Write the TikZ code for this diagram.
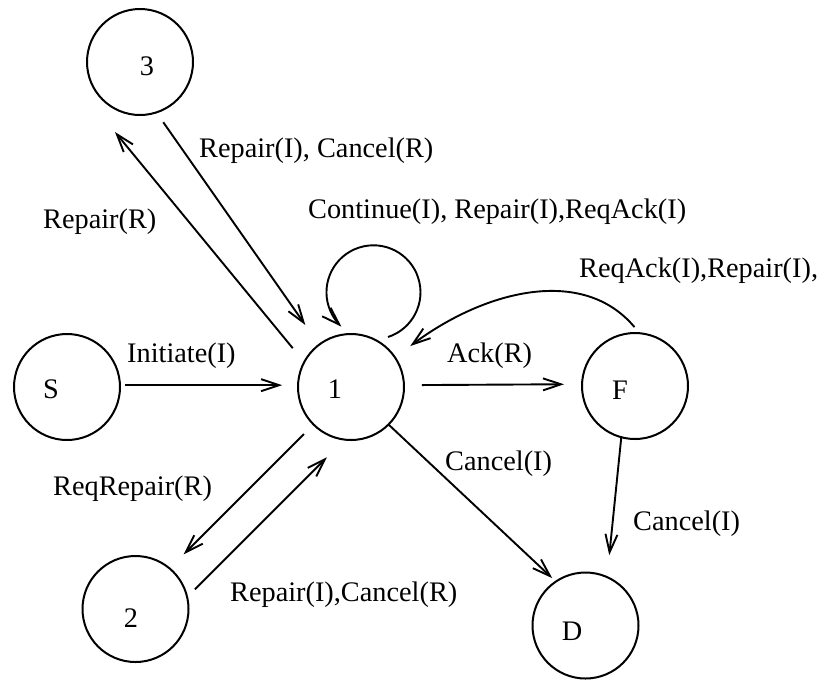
\documentclass[tikz,border=0pt]{standalone}
\usepackage{fontspec}
\setmainfont{Liberation Serif}
\usetikzlibrary{arrows.meta,calc,bending}
\begin{document}
\begin{tikzpicture}[x=1pt,y=-1pt,
  state/.style={circle,draw,line width=2pt,minimum size=106pt,inner sep=0pt,outer sep=0pt},
  lbl/.style={font=\fontsize{28.3}{34}\selectfont,inner sep=0pt,anchor=base west},
  slbl/.style={font=\fontsize{28.3}{34}\selectfont,inner sep=0pt,anchor=base},
  arr/.style={line width=1.9pt,-{Straight Barb[length=18pt,width=12pt]}},
]
\path[use as bounding box] (0,0) rectangle (821,681);

% states
\node[state] (n3) at (140,62) {};
\node[state] (nS) at (67,387) {};
\node[state] (n1) at (351,387) {};
\node[state] (nF) at (635,386) {};
\node[state] (n2) at (135.5,609) {};
\node[state] (nD) at (585.5,625.5) {};

% state names
\node[slbl] (t3) at (147,75) {3};
\node[slbl] (tS) at (51,398) {S};
\node[slbl] (t1) at (335,398) {1};
\node[slbl] (t2) at (131,627) {2};
\node[slbl] (tF) at (620,399) {F};
\node[slbl] (tD) at (572,640) {D};

% transitions
\draw[arr,shorten <=5pt,shorten >=16pt] (nS.2) -- (n1.178);
\draw[arr,shorten <=18pt,shorten >=18pt] (n1.2) -- (nF.178);
\coordinate (c3tip) at ($(n3)+(-25,70)$);
\draw[arr,shorten <=18pt] (n1.152) -- (c3tip);
\draw[arr,shorten <=12pt,shorten >=24pt] (n3.-72) -- (n1.127);
\draw[arr,shorten <=13.5pt,shorten >=20pt] (n1.-135) -- (n2.50);
\draw[arr,shorten <=11pt,shorten >=25pt] (n2.13) -- (n1.-97.5);
\draw[arr,shorten >=5pt] (n1.-45) -- (nD.124.5);
\draw[arr,shorten >=22pt] (nF.-105) -- (nD.66);
\draw[arr] (n1) ++(37,-50) arc[start angle=-72,end angle=227,radius=47pt];
\draw[arr,shorten <=8pt,shorten >=19pt] (nF.85) to[out=130,in=41] (n1.33);

% transition labels
\node[lbl] (l31) at (199,157) {Repair(I), Cancel(R)};
\node[lbl] (l13) at (43,228) {Repair(R)};
\node[lbl] (l11) at (308,218) {Continue(I), Repair(I),ReqAck(I)};
\node[lbl] (lF1) at (579,277) {ReqAck(I),Repair(I),};
\node[lbl] (lS1) at (127,362) {Initiate(I)};
\node[lbl] (l1F) at (447,362) {Ack(R)};
\node[lbl] (l12) at (53,495) {ReqRepair(R)};
\node[lbl] (l21) at (230,601) {Repair(I),Cancel(R)};
\node[lbl] (l1D) at (445,470) {Cancel(I)};
\node[lbl] (lFD) at (633,530) {Cancel(I)};
\end{tikzpicture}
\end{document}
